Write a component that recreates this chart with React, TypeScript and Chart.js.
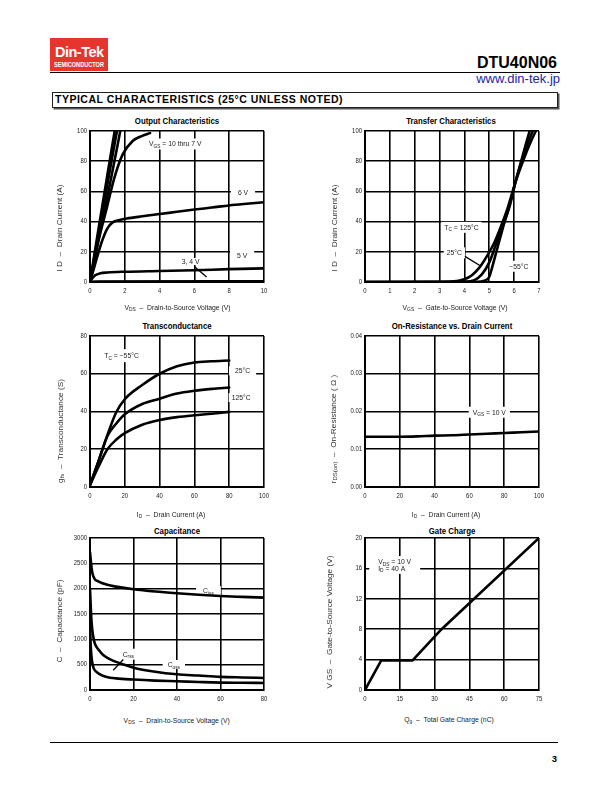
import React, { useEffect, useRef } from "react";
import { Chart, registerables } from "chart.js";
Chart.register(...registerables);

const SANS = "'Liberation Sans', Arial, Helvetica, sans-serif";

// ---------- Output characteristics (VDS [V] -> ID [A]) ----------
const out10Vds = [0, 0.5, 1.0, 1.42];
const out10Id = [0, 36, 71, 100];
const out9Vds = [0, 0.55, 1.08, 1.55];
const out9Id = [0, 36, 70, 100];
const out8Vds = [0, 0.62, 1.2, 1.74];
const out8Id = [0, 36, 68, 100];
const out7Vds = [0, 0.5, 0.92, 1.4, 1.88, 2.45, 3.0, 3.45];
const out7Id = [0, 28, 47, 69, 84.5, 93.4, 96.8, 98.6];
const out6Vds = [0, 0.25, 0.63, 1.0, 1.3, 1.7, 2.1, 3, 4, 5, 6, 7, 8, 9, 10];
const out6Id = [0, 10, 25, 35.5, 39.5, 41, 42, 43.5, 45, 46.5, 48, 49.3, 50.7, 51.8, 52.8];
const out5Vds = [0, 0.1, 0.3, 0.6, 1, 2, 4, 6, 8, 10];
const out5Id = [0, 2, 4.5, 5.8, 6.3, 6.8, 7.3, 7.8, 8.5, 9.0];
const out4Vds = [0, 0.5, 10];
const out4Id = [0, 0.3, 0.4];
const out3Vds = [0, 10];
const out3Id = [0, 0];

// ---------- Transfer characteristics (VGS [V] -> ID [A]) ----------
const tr125Vgs = [0, 3, 3.5, 4, 4.3, 4.6, 4.9, 5.2, 5.45, 5.7, 6.05, 6.4, 6.7, 6.9];
const tr125Id = [0, 0, 0.3, 1.8, 4.5, 9.5, 17, 26, 36, 47, 66, 82, 94, 101];
const tr25Vgs = [0, 4, 4.4, 4.7, 5.0, 5.27, 5.52, 5.8, 6.05, 6.3, 6.55, 6.77];
const tr25Id = [0, 0.2, 1.2, 5, 13, 25, 36, 49, 66, 80, 92, 101];
const trM55Vgs = [0, 4.5, 4.8, 5.0, 5.12, 5.25, 5.45, 5.65, 5.85, 6.05, 6.3, 6.5, 6.64];
const trM55Id = [0, 0.1, 0.8, 3.5, 10, 18, 30, 42, 53, 66, 81, 93, 101];

// ---------- Transconductance (ID [A] -> gfs [S]) ----------
const gfsId = [0, 5, 10, 15, 20, 30, 40, 50, 60, 70, 80];
const gfsM55 = [1, 14, 27.5, 39.5, 46.5, 54, 60, 64, 66, 66.6, 67];
const gfs25 = [1, 14, 27, 33.5, 38.5, 44, 46.8, 49.5, 51, 52, 52.7];
const gfs125 = [1, 11, 20, 25, 28.5, 33, 35.5, 37, 38, 38.8, 39.8];

// ---------- On-resistance (ID [A] -> rDS(on) [ohm]) ----------
const rdsId = [0, 10, 20, 30, 40, 50, 60, 70, 80, 90, 100];
const rdsOn = [0.0133, 0.0133, 0.0133, 0.0134, 0.0136, 0.0137, 0.0139, 0.0141, 0.0143, 0.0145, 0.0147];

// ---------- Capacitance (VDS [V] -> C [pF]) ----------
const cissVds = [0, 0.5, 1, 2, 4, 8, 12, 20, 30, 40, 50, 60, 70, 80];
const cissPf = [2720, 2500, 2330, 2200, 2140, 2075, 2040, 1990, 1945, 1910, 1880, 1855, 1838, 1823];
const cossVds = [0, 0.5, 1, 2, 3, 5, 7, 10, 15, 20, 30, 40, 50, 60, 70, 80];
const cossPf = [2000, 1500, 1200, 950, 850, 740, 660, 590, 510, 440, 360, 310, 285, 260, 248, 238];
const crssVds = [0, 0.3, 0.7, 1.5, 3, 5, 7.7, 12, 20, 30, 40, 50, 60, 70, 80];
const crssPf = [1300, 900, 650, 450, 357, 300, 258, 230, 206, 185, 172, 158, 146, 142, 139];

// ---------- Gate charge (Qg [nC] -> VGS [V]) ----------
const gateQg = [0, 7, 20.5, 33, 75];
const gateVgs = [0, 3.9, 3.9, 8, 20];

type Seg = { t: string; sub?: boolean };
type Note = { x: number; y: number; lines: Seg[][]; padX?: number; padY?: number; lineH?: number };
type Leader = [number, number, number, number];
type Series = { x: number[]; y: number[]; smooth?: boolean };
type PlotDef = {
  L: number; T: number; R: number; B: number;
  xMin: number; xMax: number; xStep: number;
  yMin: number; yMax: number; yStep: number; yDec?: number;
  series: Series[]; notes: Note[]; leaders?: Leader[];
};

const PAD_L = 40, PAD_T = 10, PAD_R = 20, PAD_B = 25;
const NOTE_SIZE = 6.8, SUB_SIZE = 4.8;
const TICK_SIZE = 6.3, TICK_SQUEEZE = 0.94;

function segFont(sub?: boolean) {
  return `${sub ? SUB_SIZE : NOTE_SIZE}px ${SANS}`;
}
function measureLine(ctx: CanvasRenderingContext2D, segs: Seg[]) {
  let w = 0;
  for (const s of segs) { ctx.font = segFont(s.sub); w += ctx.measureText(s.t).width; }
  return w;
}
function fmt(v: number, dec: number) {
  return dec ? v.toFixed(dec) : String(Math.round(v * 1000) / 1000);
}

function axis(min: number, max: number, step: number, isX: boolean) {
  return {
    type: "linear" as const,
    min, max,
    ticks: { stepSize: step, autoSkip: false, display: false },
    grid: { color: "#000", lineWidth: 1.6, drawTicks: false },
    border: { display: true, color: "#000", width: 2 },
    afterFit: (s: any) => { if (isX) s.height = PAD_B; else s.width = PAD_L; },
  };
}

function drawSqueezed(ctx: CanvasRenderingContext2D, s: string, x: number, y: number, align: CanvasTextAlign) {
  ctx.save();
  ctx.translate(x, y);
  ctx.scale(TICK_SQUEEZE, 1);
  ctx.textAlign = align;
  ctx.fillText(s, 0, 0);
  ctx.restore();
}

function Plot({ def }: { def: PlotDef }) {
  const ref = useRef<HTMLCanvasElement>(null);
  const W = def.R - def.L + PAD_L + PAD_R;
  const H = def.B - def.T + PAD_T + PAD_B;
  useEffect(() => {
    const notesPlugin = {
      id: "notes",
      beforeDatasetsDraw(chart: any) {
        const ctx: CanvasRenderingContext2D = chart.ctx;
        const xs = chart.scales.x, ys = chart.scales.y;
        ctx.save();
        for (const n of def.notes) {
          const lh = n.lineH ?? 8;
          const w = Math.max(...n.lines.map((l) => measureLine(ctx, l)));
          const h = (n.lines.length - 1) * lh + 5;
          const px = xs.getPixelForValue(n.x), py = ys.getPixelForValue(n.y);
          const padX = n.padX ?? 2, padY = n.padY ?? 2;
          ctx.fillStyle = "#fff";
          ctx.fillRect(px - padX, py - h / 2 - padY, w + 2 * padX, h + 2 * padY);
        }
        ctx.restore();
      },
      afterDatasetsDraw(chart: any) {
        const ctx: CanvasRenderingContext2D = chart.ctx;
        const xs = chart.scales.x, ys = chart.scales.y;
        ctx.save();
        ctx.strokeStyle = "#000";
        ctx.lineWidth = 1.3;
        for (const l of def.leaders ?? []) {
          ctx.beginPath();
          ctx.moveTo(xs.getPixelForValue(l[0]), ys.getPixelForValue(l[1]));
          ctx.lineTo(xs.getPixelForValue(l[2]), ys.getPixelForValue(l[3]));
          ctx.stroke();
        }
        ctx.fillStyle = "#222";
        ctx.textBaseline = "alphabetic";
        ctx.textAlign = "left";
        for (const n of def.notes) {
          const lh = n.lineH ?? 8;
          const px = xs.getPixelForValue(n.x), py = ys.getPixelForValue(n.y);
          n.lines.forEach((segs, i) => {
            const base = py - ((n.lines.length - 1) * lh) / 2 + i * lh + 2.4;
            let cx = px;
            for (const s of segs) {
              ctx.font = segFont(s.sub);
              ctx.fillText(s.t, cx, s.sub ? base + 1.6 : base);
              cx += ctx.measureText(s.t).width;
            }
          });
        }
        ctx.restore();
      },
      afterDraw(chart: any) {
        const ctx: CanvasRenderingContext2D = chart.ctx;
        const xs = chart.scales.x, ys = chart.scales.y;
        const ca = chart.chartArea;
        ctx.save();
        ctx.fillStyle = "#222";
        ctx.font = `${TICK_SIZE}px ${SANS}`;
        ctx.textBaseline = "middle";
        for (const t of xs.ticks) {
          drawSqueezed(ctx, fmt(t.value, 0), xs.getPixelForValue(t.value), ca.bottom + 9.6, "center");
        }
        for (const t of ys.ticks) {
          drawSqueezed(ctx, fmt(t.value, def.yDec ?? 0), ca.left - 3, ys.getPixelForValue(t.value), "right");
        }
        ctx.restore();
      },
    };
    const chart = new Chart(ref.current!, {
      type: "line",
      data: {
        datasets: def.series.map((s) => ({
          data: s.x.map((x, i) => ({ x, y: s.y[i] })),
          borderColor: "#000",
          borderWidth: 2.6,
          pointRadius: 0,
          fill: false,
          tension: s.smooth === false ? 0 : 0.4,
          cubicInterpolationMode: s.smooth === false ? "default" : "monotone",
          borderCapStyle: "round",
          borderJoinStyle: "round",
        })) as any,
      },
      options: {
        responsive: false,
        animation: false,
        devicePixelRatio: 1,
        layout: { padding: { left: 0, top: PAD_T, right: PAD_R, bottom: 0 } },
        plugins: { legend: { display: false }, tooltip: { enabled: false }, title: { display: false } },
        scales: {
          x: axis(def.xMin, def.xMax, def.xStep, true) as any,
          y: axis(def.yMin, def.yMax, def.yStep, false) as any,
        },
      },
      plugins: [notesPlugin as any],
    });
    return () => chart.destroy();
  }, []);
  return (
    <canvas
      ref={ref}
      width={W}
      height={H}
      style={{ position: "absolute", left: def.L - PAD_L, top: def.T - PAD_T, width: W, height: H }}
    />
  );
}

const plotOutput: PlotDef = {
  L: 90, T: 131, R: 264, B: 282, xMin: 0, xMax: 10, xStep: 2, yMin: 0, yMax: 100, yStep: 20,
  series: [
    { x: out10Vds, y: out10Id }, { x: out9Vds, y: out9Id }, { x: out8Vds, y: out8Id },
    { x: out7Vds, y: out7Id }, { x: out6Vds, y: out6Id }, { x: out5Vds, y: out5Id },
    { x: out4Vds, y: out4Id }, { x: out3Vds, y: out3Id },
  ],
  notes: [
    { x: 3.39, y: 91.4, lines: [[{ t: "V" }, { t: "GS", sub: true }, { t: " = 10 thru 7 V" }]], padX: 3, padY: 3 },
    { x: 8.5, y: 59.5, lines: [[{ t: "6 V" }]], padX: 7, padY: 2 },
    { x: 8.45, y: 17.8, lines: [[{ t: "5 V" }]], padX: 7, padY: 2 },
    { x: 5.27, y: 13.6, lines: [[{ t: "3, 4 V" }]], padX: 1, padY: 1 },
  ],
  leaders: [[6.03, 9.9, 6.7, 3.3]],
};

const plotTransfer: PlotDef = {
  L: 365, T: 131, R: 539, B: 282, xMin: 0, xMax: 7, xStep: 1, yMin: 0, yMax: 100, yStep: 20,
  series: [{ x: tr125Vgs, y: tr125Id }, { x: tr25Vgs, y: tr25Id }, { x: trM55Vgs, y: trM55Id }],
  notes: [
    { x: 3.19, y: 36.2, lines: [[{ t: "T" }, { t: "C", sub: true }, { t: " = 125°C" }]], padX: 3, padY: 3 },
    { x: 3.29, y: 19.3, lines: [[{ t: "25°C" }]], padX: 3, padY: 3 },
    { x: 5.8, y: 10.4, lines: [[{ t: "−55°C" }]], padX: 1, padY: 3 },
  ],
  leaders: [[4.02, 17, 4.67, 10.4]],
};

const plotGfs: PlotDef = {
  L: 90, T: 336, R: 264, B: 487, xMin: 0, xMax: 100, xStep: 20, yMin: 0, yMax: 80, yStep: 20,
  series: [{ x: gfsId, y: gfsM55 }, { x: gfsId, y: gfs25 }, { x: gfsId, y: gfs125 }],
  notes: [
    { x: 8.2, y: 69.6, lines: [[{ t: "T" }, { t: "C", sub: true }, { t: " = −55°C" }]], padX: 3, padY: 4 },
    { x: 83.3, y: 61.5, lines: [[{ t: "25°C" }]], padX: 6, padY: 2 },
    { x: 81.4, y: 47.4, lines: [[{ t: "125°C" }]], padX: 3, padY: 2 },
  ],
};

const plotRds: PlotDef = {
  L: 365, T: 336, R: 539, B: 487, xMin: 0, xMax: 100, xStep: 20, yMin: 0, yMax: 0.04, yStep: 0.01, yDec: 2,
  series: [{ x: rdsId, y: rdsOn }],
  notes: [{ x: 61.9, y: 0.0198, lines: [[{ t: "V" }, { t: "GS", sub: true }, { t: " = 10 V" }]], padX: 4, padY: 3 }],
};

const plotCap: PlotDef = {
  L: 90, T: 538, R: 264, B: 690, xMin: 0, xMax: 80, xStep: 20, yMin: 0, yMax: 3000, yStep: 500,
  series: [{ x: cissVds, y: cissPf }, { x: cossVds, y: cossPf }, { x: crssVds, y: crssPf }],
  notes: [
    { x: 52, y: 1961, lines: [[{ t: "C" }, { t: "iss", sub: true }]], padX: 7, padY: 2 },
    { x: 35.7, y: 503, lines: [[{ t: "C" }, { t: "oss", sub: true }]], padX: 5, padY: 2 },
    { x: 15, y: 707, lines: [[{ t: "C" }, { t: "rss", sub: true }]], padX: 1, padY: 3 },
  ],
  leaders: [[15.3, 602, 10.7, 390]],
};

const plotGate: PlotDef = {
  L: 365, T: 538, R: 539, B: 690, xMin: 0, xMax: 75, xStep: 15, yMin: 0, yMax: 20, yStep: 4,
  series: [{ x: gateQg, y: gateVgs, smooth: false }],
  notes: [
    {
      x: 5.7, y: 16.45, lineH: 6.8, padX: 9, padY: 3,
      lines: [
        [{ t: "V" }, { t: "DS", sub: true }, { t: " = 10 V" }],
        [{ t: "I" }, { t: "D", sub: true }, { t: " = 40 A" }],
      ],
    },
  ],
};

const abs = (s: React.CSSProperties): React.CSSProperties => ({
  position: "absolute", whiteSpace: "nowrap", lineHeight: 1, ...s,
});
const Sub = ({ children }: { children: React.ReactNode }) => (
  <span style={{ fontSize: "72%", verticalAlign: "-0.3em" }}>{children}</span>
);

function Title({ cx, cy, text }: { cx: number; cy: number; text: string }) {
  return (
    <div style={abs({ left: cx, top: cy, transform: "translate(-50%,-50%) scaleX(0.87)", fontWeight: "bold", fontSize: 9 })}>
      {text}
    </div>
  );
}
function XTitle({ cx, cy, children }: { cx: number; cy: number; children: React.ReactNode }) {
  return (
    <div style={abs({ left: cx, top: cy, transform: "translate(-50%,-50%)", fontSize: 6.8, color: "#222" })}>{children}</div>
  );
}
function YTitle({ cx, cy, children }: { cx: number; cy: number; children: React.ReactNode }) {
  return (
    <div style={abs({ left: cx, top: cy, transform: "translate(-50%,-50%) rotate(-90deg) scaleX(1.25)", fontSize: 6.6, color: "#333" })}>
      {children}
    </div>
  );
}

const D = "\u00a0\u00a0–\u00a0\u00a0";

export default function App() {
  return (
    <div style={{ position: "absolute", left: 0, top: 0, width: 612, height: 792, fontFamily: SANS, color: "#000", background: "#fff" }}>
      {/* header */}
      <div style={{ position: "absolute", left: 50, top: 38, width: 58, height: 33, background: "#e5352d" }} />
      <div style={abs({ left: 55, top: 44.8, fontSize: 14.5, fontWeight: "bold", color: "#fff", letterSpacing: -0.5 })}>Din-Tek</div>
      <div style={abs({ left: 53.5, top: 61.4, fontSize: 7, fontWeight: "bold", color: "#fff", transform: "scaleX(0.8)", transformOrigin: "left" })}>
        SEMICONDUCTOR
      </div>
      <div style={abs({ right: 55, top: 54.8, fontSize: 16, fontWeight: "bold" })}>DTU40N06</div>
      <div style={{ position: "absolute", left: 50, top: 71.7, width: 510, height: 1.3, background: "#000" }} />
      <div style={abs({ right: 52, top: 72.3, fontSize: 13, color: "#2323a8" })}>www.din-tek.jp</div>
      <div style={{ position: "absolute", left: 51.8, top: 91.7, width: 504, height: 14, border: "1px solid #222", boxShadow: "1.5px 1.5px 0 #555" }} />
      <div style={abs({ left: 55, top: 94.4, fontSize: 10.5, fontWeight: "bold", letterSpacing: 0.5 })}>TYPICAL CHARACTERISTICS (25°C UNLESS NOTED)</div>

      {/* chart titles */}
      <Title cx={177} cy={120.7} text="Output Characteristics" />
      <Title cx={451} cy={120.7} text="Transfer Characteristics" />
      <Title cx={177} cy={325.7} text="Transconductance" />
      <Title cx={452} cy={325.7} text="On-Resistance vs. Drain Current" />
      <Title cx={177} cy={530.7} text="Capacitance" />
      <Title cx={452} cy={530.7} text="Gate Charge" />

      {/* plots */}
      <Plot def={plotOutput} />
      <Plot def={plotTransfer} />
      <Plot def={plotGfs} />
      <Plot def={plotRds} />
      <Plot def={plotCap} />
      <Plot def={plotGate} />

      {/* axis titles */}
      <XTitle cx={177.5} cy={309}>V<Sub>DS</Sub>{D}Drain-to-Source Voltage (V)</XTitle>
      <YTitle cx={60} cy={228}>I{"\u00a0"}D{D}Drain Current (A)</YTitle>
      <XTitle cx={455} cy={309}>V<Sub>GS</Sub>{D}Gate-to-Source Voltage (V)</XTitle>
      <YTitle cx={335} cy={228}>I{"\u00a0"}D{D}Drain Current (A)</YTitle>
      <XTitle cx={171} cy={516}>I<Sub>D</Sub>{D}Drain Current (A)</XTitle>
      <YTitle cx={62} cy={431}>g<Sub>fs</Sub>{D}Transconductance (S)</YTitle>
      <XTitle cx={446} cy={516}>I<Sub>D</Sub>{D}Drain Current (A)</XTitle>
      <YTitle cx={335} cy={429}>r<Sub>DS(on)</Sub>{D}On-Resistance ( Ω )</YTitle>
      <XTitle cx={176.7} cy={721.7}>V<Sub>DS</Sub>{D}Drain-to-Source Voltage (V)</XTitle>
      <YTitle cx={60} cy={621}>C{D}Capacitance (pF)</YTitle>
      <XTitle cx={449} cy={721}>Q<Sub>g</Sub>{D}Total Gate Charge (nC)</XTitle>
      <YTitle cx={330} cy={622}>V{"\u00a0"}GS{D}Gate-to-Source Voltage (V)</YTitle>

      {/* footer */}
      <div style={{ position: "absolute", left: 50, top: 741.7, width: 508, height: 1.3, background: "#000" }} />
      <div style={abs({ right: 55, top: 754, fontSize: 9.5, fontWeight: "bold" })}>3</div>
    </div>
  );
}
